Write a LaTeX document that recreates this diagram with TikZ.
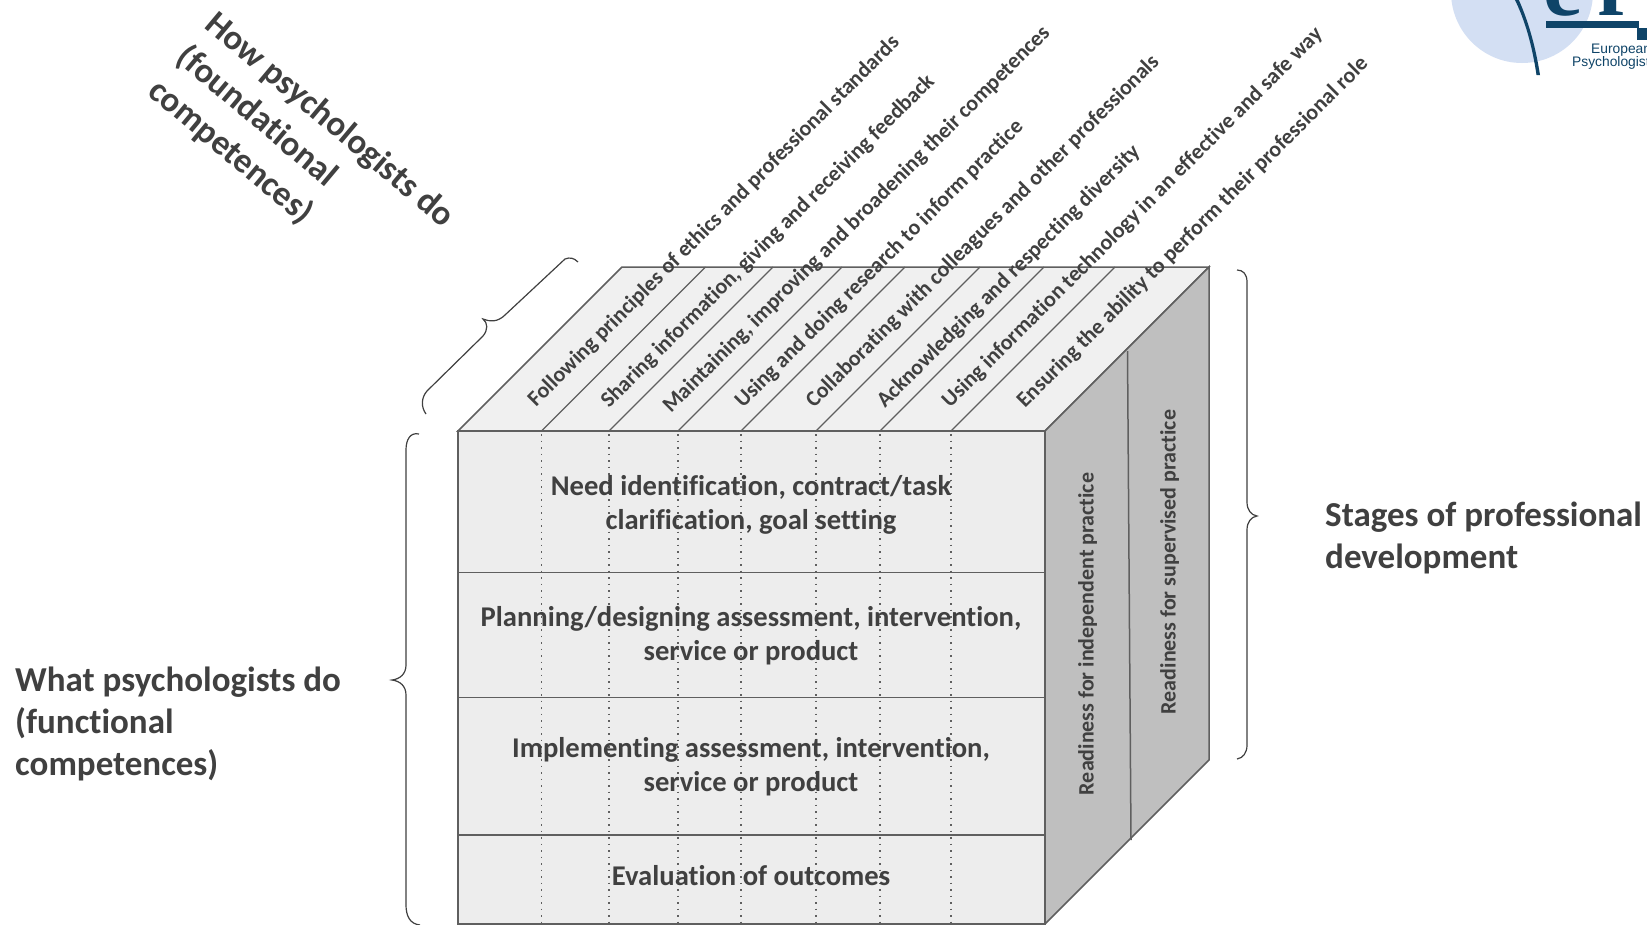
\documentclass[tikz,border=0pt]{standalone}
\usepackage{fontspec}
\setmainfont{Carlito}[Ligatures=NoCommon]
\newfontfamily\logofont{Liberation Serif}
\newfontfamily\logosans{Liberation Sans}
\definecolor{ink}{HTML}{404040}
\definecolor{edge}{HTML}{5F5F5F}
\definecolor{facefront}{HTML}{EDEDED}
\definecolor{facetop}{HTML}{F0F0F0}
\definecolor{faceside}{HTML}{BFBFBF}
\definecolor{logoblue}{HTML}{0F4468}
\definecolor{logolight}{HTML}{D3DFF3}
\tikzset{
  x=1pt,y=-1pt,
  cubeline/.style={draw=edge,line width=1.5pt},
  thinline/.style={draw=edge,line width=1.2pt},
  dotline/.style={draw=edge,line width=1.5pt,dash pattern=on 1.5pt off 5pt},
  bracket/.style={draw=ink,line width=1.2pt},
  rowtext/.style={text=ink,font=\fontsize{28.6}{34}\selectfont\bfseries,align=center,inner sep=0pt},
  headtext/.style={text=ink,font=\fontsize{35}{42}\selectfont\bfseries,align=left,inner sep=0pt},
  toptext/.style={text=ink,font=\fontsize{22}{26}\selectfont\bfseries,rotate=45,anchor=base west,inner sep=0pt},
  sidetext/.style={text=ink,font=\fontsize{22}{26}\selectfont\bfseries,rotate=90,inner sep=0pt},
}
\begin{document}
\begin{tikzpicture}
\useasboundingbox (0,0) rectangle (1647,924);
\fill[white] (0,0) rectangle (1647,924);
\begin{scope}
\clip (0,0) rectangle (1647,924);
% logo
\fill[logolight] (1522,-8) circle (71);
\fill[logoblue] (1518,-2) .. controls (1530,25) and (1536,50) .. (1540,75) -- (1536.5,75) .. controls (1532,45) and (1525,20) .. (1514,-2) -- cycle;
\node[text=logoblue,anchor=base west,inner sep=0pt,font=\fontsize{88}{88}\selectfont\logofont\bfseries] (logoword) at (1543,15) {e\hspace{15pt}f};
\fill[logoblue] (1546,21) rectangle (1639,27.5);
\fill[logoblue] (1637,27.5) rectangle (1647,40);
\node[text=logoblue,anchor=base west,inner sep=0pt,font=\fontsize{13.8}{14}\selectfont\logosans] (logoa) at (1591,53.5) {European};
\node[text=logoblue,anchor=base west,inner sep=0pt,font=\fontsize{13.8}{14}\selectfont\logosans] (logob) at (1572,66) {Psychologists};
% cube corners
\coordinate (ftl) at (458,431);
\coordinate (ftr) at (1045,431);
\coordinate (fbl) at (458,924);
\coordinate (fbr) at (1045,924);
\coordinate (btl) at (622,267);
\coordinate (btr) at (1209,267);
\coordinate (bbr) at (1209,760);
% faces
\path[fill=facetop,cubeline] (ftl) -- (btl) -- (btr) -- (ftr) -- cycle;
\path[fill=faceside,cubeline] (ftr) -- (btr) -- (bbr) -- (fbr) -- cycle;
\path[fill=facefront,cubeline] (ftl) -- (ftr) -- (fbr) -- (fbl) -- cycle;
% column dividers
\foreach \cx in {541.5,609,678,741,816,880,951}{
  \draw[thinline] (\cx,431) -- ({\cx+164},267);
  \draw[dotline] (\cx,434) -- (\cx,924);
}
% row dividers
\foreach \ry in {572.5,697.5,835}{
  \draw[cubeline] (458,\ry) -- (1045,\ry);
}
% side divider
\coordinate (sdt) at (1127.5,351);
\coordinate (sdb) at (1131,840);
\draw[cubeline] (sdt) -- (sdb);
% row labels
\node[rowtext] (rowa) at (751,505) {Need identification, contract/task\\clarification, goal setting};
\node[rowtext] (rowb) at (751,636) {Planning/designing assessment, intervention,\\service or product};
\node[rowtext] (rowc) at (751,767) {Implementing assessment, intervention,\\service or product};
\node[rowtext] (rowd) at (751,876) {Evaluation of outcomes};
% side labels
\node[sidetext] (sidea) at (1087.5,634) {Readiness for independent practice};
\node[sidetext] (sideb) at (1169.5,562) {Readiness for supervised practice};
% column labels
\node[toptext] (cola) at (536,408) {Following principles of ethics and professional standards};
\node[toptext] (colb) at (609,409) {Sharing information, giving and receiving feedback};
\node[toptext] (colc) at (671,414) {Maintaining, improving and broadening their competences};
\node[toptext] (cold) at (743,409) {Using and doing research to inform practice};
\node[toptext] (cole) at (814,409) {Collaborating with colleagues and other professionals};
\node[toptext] (colf) at (885,409) {Acknowledging and respecting diversity};
\node[toptext] (colg) at (950,409) {Using information technology in an effective and safe way};
\node[toptext] (colh) at (1025,409) {Ensuring the ability to perform their professional role};
% headings
\node[headtext,anchor=west] (heada) at (15,724) {What psychologists do\\(functional\\competences)};
\node[headtext,anchor=west] (headb) at (1325,538) {Stages of professional\\development};
\node[headtext,anchor=north west,rotate=-40,font=\fontsize{35}{44}\selectfont\bfseries] (headc) at (219,8) {How psychologists do\\(foundational\\competences)};
% braces
\draw[bracket] (419,434) .. controls (410,432) and (406,440) .. (406,450) -- (406,665) .. controls (406,674) and (400,679) .. (392,680) .. controls (400,681) and (406,686) .. (406,695) -- (406,905) .. controls (406,916) and (410,924) .. (420,925);
\draw[bracket] (1237,270) .. controls (1243,270) and (1247,274) .. (1247,282) -- (1247,502) .. controls (1247,510) and (1251,515) .. (1257,516) .. controls (1251,517) and (1247,522) .. (1247,530) -- (1247,745) .. controls (1247,753) and (1243,758) .. (1237,759);
\draw[bracket] (578,262) .. controls (574,258) and (570,257) .. (565,259) -- (505,315) .. controls (498,322) and (490,322) .. (483,319) .. controls (488,323) and (488,330) .. (483,336) -- (427,391) .. controls (421,398) and (421,407) .. (426,414);
\end{scope}
\end{tikzpicture}
\end{document}
